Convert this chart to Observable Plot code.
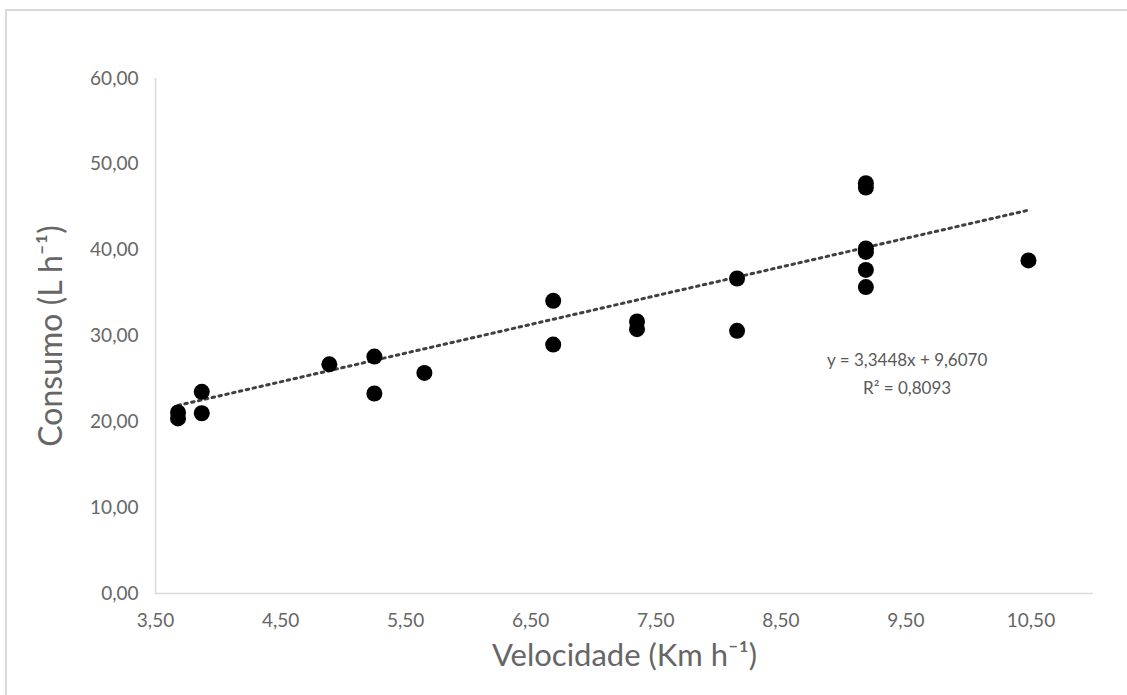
<!DOCTYPE html>
<html>
<head>
<meta charset="utf-8">
<script src="https://cdn.jsdelivr.net/npm/d3@7"></script>
<script src="https://cdn.jsdelivr.net/npm/@observablehq/plot@0.6"></script>
<style>
  html, body { margin: 0; padding: 0; background: #fff; }
  #wrap { position: relative; width: 1127px; height: 695px; overflow: hidden; }
  #frame { position: absolute; left: 5px; top: 9px; width: 1200px; height: 800px;
           border-left: 2px solid #d9d9d9; border-top: 2px solid #d9d9d9; }
  #chart { position: absolute; left: 0; top: 0; }
</style>
</head>
<body>
<div id="wrap"><div id="frame"></div><div id="chart"></div></div>
<script>
// Velocidade (Km h-1)
const velocidade = [3.68, 3.68, 3.87, 3.87, 4.89, 5.25, 5.25, 5.65, 6.68, 6.68, 7.35, 7.35, 8.15, 8.15, 9.18, 9.18, 9.18, 9.18, 9.18, 9.18, 10.48];
// Consumo (L h-1)
const consumo = [21.1, 20.4, 23.5, 21.0, 26.7, 27.6, 23.3, 25.7, 34.1, 29.0, 31.7, 30.8, 36.7, 30.6, 47.8, 47.3, 40.2, 39.8, 37.7, 35.7, 38.8];

const xTicks = [3.5, 4.5, 5.5, 6.5, 7.5, 8.5, 9.5, 10.5];
const yTicks = [0, 10, 20, 30, 40, 50, 60];

// Linear trend (as reported on the chart)
const trendSlope = 3.3448;
const trendIntercept = 9.6070;
const trendRange = [3.68, 10.48];
const equationText = "y = 3,3448x + 9,6070\nR² = 0,8093";
const equationPos = [{x: 9.51, y: 25.9}];

const points = velocidade.map((v, i) => ({x: v, y: consumo[i]}));
const trend = trendRange.map(x => ({x, y: trendSlope * x + trendIntercept}));
const fmt = d => d.toFixed(2).replace(".", ",");

const gray = "#595959";
const chart = Plot.plot({
  width: 1127,
  height: 695,
  marginLeft: 155,
  marginRight: 34,
  marginTop: 78,
  marginBottom: 102,
  style: {fontFamily: "Lato, 'Open Sans', sans-serif", background: "transparent"},
  x: {domain: [3.5, 11.0]},
  y: {domain: [0, 60]},
  marks: [
    Plot.axisX({ticks: xTicks, tickFormat: fmt, tickSize: 0, tickPadding: 20, fontSize: 19, color: "#666", label: null}),
    Plot.axisY({ticks: yTicks, tickFormat: fmt, tickSize: 0, tickPadding: 17, fontSize: 19, color: "#666", label: null}),
    Plot.ruleX([3.5], {stroke: "#d9d9d9", strokeWidth: 1.5}),
    Plot.ruleY([0], {stroke: "#d9d9d9", strokeWidth: 1.5}),
    Plot.line(trend, {x: "x", y: "y", stroke: "#404040", strokeWidth: 3, strokeDasharray: "2.5,4.5"}),
    Plot.dot(points, {x: "x", y: "y", r: 8, fill: "black", stroke: "none"}),
    Plot.text(equationPos, {x: "x", y: "y", text: () => equationText, fontSize: 17, fill: gray, lineHeight: 1.65, textAnchor: "middle"}),
    Plot.text(["Velocidade (Km h⁻¹)"], {frameAnchor: "bottom", dy: 72, fontSize: 31, fill: "#666"}),
    Plot.text(["Consumo (L h⁻¹)"], {frameAnchor: "left", dx: -104, rotate: -90, textAnchor: "middle", fontSize: 32, fill: "#666"})
  ]
});
document.getElementById("chart").appendChild(chart);
</script>
</body>
</html>
